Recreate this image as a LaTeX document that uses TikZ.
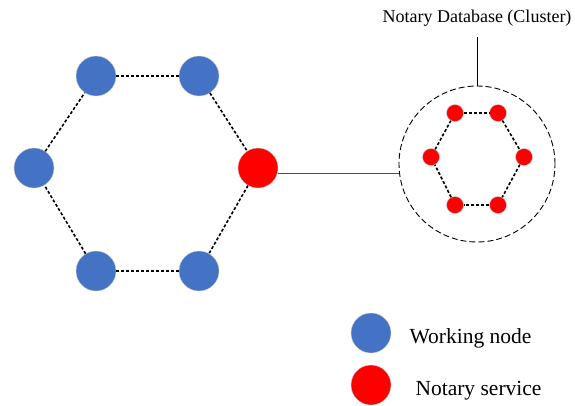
\documentclass[tikz,border=0pt]{standalone}
\usepackage{fontspec}
\setmainfont{Liberation Serif}
\usetikzlibrary{positioning, calc}
\definecolor{workblue}{RGB}{68,114,196}
\definecolor{notaryred}{RGB}{255,0,0}
\tikzset{
  worker/.style={
    circle,
    draw=gray!40,
    fill=workblue,
    minimum size=40pt,
    inner sep=0pt
  },
  notary/.style={
    circle,
    draw=gray!40,
    fill=notaryred,
    minimum size=40pt,
    inner sep=0pt
  },
  member/.style={
    circle,
    draw=gray!40,
    fill=notaryred,
    minimum size=17pt,
    inner sep=0pt
  },
  link/.style={
    line width=1.6pt,
    dash pattern=on 3pt off 2pt
  },
  legendtext/.style={
    anchor=base west,
    font=\fontsize{21.5}{24}\selectfont
  }
}

\begin{document}
\begin{tikzpicture}[x=1pt, y=-1pt]
        \useasboundingbox (0,0) rectangle (575,405);
        % main network
        \node[worker] (w1) at (96,76) {};
        \node[worker] (w2) at (199,76) {};
        \node[worker] (w3) at (34,168) {};
        \node[notary] (ns) at (258,168) {};
        \node[worker] (w4) at (96,271) {};
        \node[worker] (w5) at (199,271) {};

        \draw[link] (w1) -- (w2);
        \draw[link] (w2) -- (ns);
        \draw[link] (ns) -- (w5);
        \draw[link] (w5) -- (w4);
        \draw[link] (w4) -- (w3);
        \draw[link] (w3) -- (w1);

        % notary cluster
        \node[circle, draw, line width=0.9pt, dash pattern=on 6pt off 3pt, minimum size=156pt, inner sep=0pt] (cluster) at (477,164) {};
        \node[member] (m1) at (455,113) {};
        \node[member] (m2) at (498,113) {};
        \node[member] (m3) at (431,157) {};
        \node[member] (m4) at (524,157) {};
        \node[member] (m5) at (455,205) {};
        \node[member] (m6) at (498,205) {};

        \draw[link] (m1) -- (m2);
        \draw[link] (m2) -- (m4);
        \draw[link] (m4) -- (m6);
        \draw[link] (m6) -- (m5);
        \draw[link] (m5) -- (m3);
        \draw[link] (m3) -- (m1);

        \draw[gray!60!black] (ns.east |- 0,173) -- (cluster.west |- 0,173);

        \node[anchor=base, font=\fontsize{18}{20}\selectfont] (label) at (477,22) {Notary Database (Cluster)};
        \coordinate (labelfoot) at (477,37);
        \draw (labelfoot) -- (cluster.north);

        % legend
        \node[worker] (lw) at (371,333) {};
        \node[notary] (ln) at (371,385) {};
        \node[legendtext] (lwt) at (406,343) {Working node};
        \node[legendtext] (lnt) at (412,395) {Notary service};
      \end{tikzpicture}
\end{document}
